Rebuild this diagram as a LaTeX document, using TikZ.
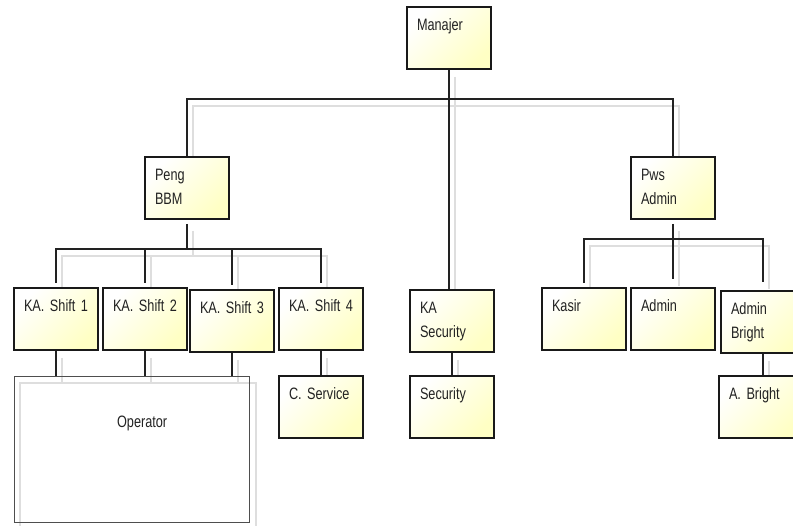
\documentclass[tikz,border=0pt]{standalone}
\usepackage{fontspec}
\setmainfont{Liberation Sans}[FakeStretch=0.77, WordSpace=0.75]
\usepackage{tikz}
\usetikzlibrary{backgrounds}
\definecolor{kuning}{RGB}{255,255,196}
\definecolor{tinta}{RGB}{34,34,34}
\definecolor{bayangan}{RGB}{222,222,222}
\tikzstyle{garis} = [draw=tinta, line width=1.3pt]
\tikzstyle{bayang} = [draw=bayangan, line width=2pt]
\frenchspacing

% semua garis penghubung struktur
\newcommand{\sambungan}{%
    \draw (manajer.south) -- (manajer.south |- ksec.north);
    \draw (peng.north) |- (busM) -| (pws.north);

    \draw [shorten <=4pt] (peng.south) -- (busP);
    \draw [shorten <=4pt, shorten >=4pt] (s1.north) |- (busP) -| (s4.north);
    \draw [shorten >=4pt] (busP -| s2.north) -- (s2.north);
    \draw [shorten >=4pt] (busP -| s3.north) -- (s3.north);

    \draw [shorten <=4pt] (pws.south) -- (busW);
    \draw [shorten <=4pt, shorten >=8pt] (kasir.north) |- (busW) -| (abr.north);
    \draw [shorten >=8pt] (busW -| admin.north) -- (admin.north);

    \draw (s1.south) -- (s1.south |- op.north);
    \draw (s2.south) -- (s2.south |- op.north);
    \draw (s3.south) -- (s3.south |- op.north);
    \draw (s4.south) -- (s4.south |- cserv.north);
    \draw (ksec.south) -- (ksec.south |- sec.north);
    \draw (abr.south) -- (abr.south |- abr2.north);
}

\begin{document}
\begin{tikzpicture}[x=1pt, y=-1pt, text=tinta,
        font=\fontsize{16.5}{24}\selectfont]
    \tikzstyle{jabatan} = [draw=black!90, line width=2pt,
        top color=white, bottom color=kuning, shading angle=45,
        anchor=north west, minimum width=84pt, minimum height=62pt,
        text width=64pt, inner xsep=10pt, inner ysep=12pt,
        text height=12pt, text depth=26pt, align=left]
    \useasboundingbox (0,0) rectangle (793,526);

    \node [jabatan] (manajer) at (406,6) {Manajer};

    \node [jabatan] (peng) at (144,156) {Peng\\BBM};
    \node [jabatan] (pws) at (630,156) {Pws\\Admin};

    \node [jabatan] (s1) at (13,287) {KA. Shift 1};
    \node [jabatan] (s2) at (102,287) {KA. Shift 2};
    \node [jabatan] (s3) at (189,289) {KA. Shift 3};
    \node [jabatan] (s4) at (278,287) {KA. Shift 4};
    \node [jabatan] (ksec) at (409,289) {KA\\Security};
    \node [jabatan] (kasir) at (541,287) {Kasir};
    \node [jabatan] (admin) at (630,287) {Admin};
    \node [jabatan] (abr) at (720,290) {Admin\\Bright};

    \node [jabatan] (cserv) at (278,375) {C. Service};
    \node [jabatan] (sec) at (409,375) {Security};
    \node [jabatan] (abr2) at (718,375) {A. Bright};

    \node [draw=tinta!80, line width=1.3pt, anchor=north west,
        minimum width=235pt, minimum height=146pt, text width=215pt,
        inner xsep=10pt, inner ysep=0pt, text height=51pt, text depth=95pt,
        align=center] (op) at (14,376) {\hspace*{20pt}Operator};

    \path (manajer.south) ++(0,29) coordinate (busM);
    \path (peng.south) ++(0,29) coordinate (busP);
    \path (pws.south) ++(0,19) coordinate (busW);

    \begin{scope}[on background layer]
        \begin{scope}[bayang, transform canvas={xshift=6pt, yshift=-7pt}]
            \sambungan
            \draw (op.north west) rectangle (op.south east);
        \end{scope}
        \begin{scope}[garis]
            \sambungan
        \end{scope}
    \end{scope}
\end{tikzpicture}
\end{document}
